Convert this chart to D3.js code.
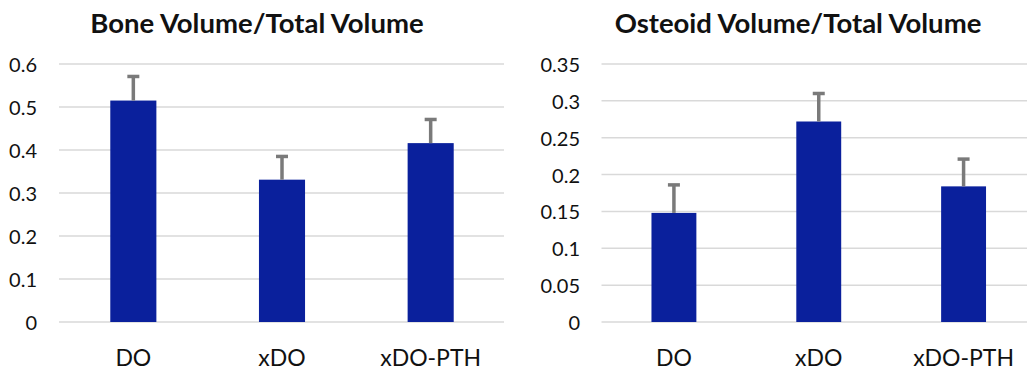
<!DOCTYPE html>
<html>
<head>
<meta charset="utf-8">
<script src="https://cdn.jsdelivr.net/npm/d3@7"></script>
<style>
  html, body { margin: 0; padding: 0; background: #fff; }
  svg { display: block; }
  text { font-family: Lato, "Open Sans", sans-serif; fill: #111; }
</style>
</head>
<body>
<svg id="chart" width="1027" height="373"></svg>
<script>
const categories = ["DO", "xDO", "xDO-PTH"];

const boneTitle = "Bone Volume/Total Volume";
const boneValues = [0.515, 0.331, 0.416];
const boneErrors = [0.056, 0.054, 0.055];
const boneTicks = [0, 0.1, 0.2, 0.3, 0.4, 0.5, 0.6];
const boneTickLabels = ["0", "0.1", "0.2", "0.3", "0.4", "0.5", "0.6"];

const osteoidTitle = "Osteoid Volume/Total Volume";
const osteoidValues = [0.148, 0.272, 0.184];
const osteoidErrors = [0.038, 0.038, 0.037];
const osteoidTicks = [0, 0.05, 0.1, 0.15, 0.2, 0.25, 0.3, 0.35];
const osteoidTickLabels = ["0", "0.05", "0.1", "0.15", "0.2", "0.25", "0.3", "0.35"];

const svg = d3.select("#chart");
const BAR = "#0a209c";
const ERR = "#7a7a7a";
const GRID = "#d9d9d9";

function drawPanel(cfg) {
  const g = svg.append("g");
  const x = d3.scaleBand().domain(categories).range([cfg.x0, cfg.x1]).paddingInner(0.69).paddingOuter(0.345);
  const y = d3.scaleLinear().domain([0, cfg.max]).range([322, 64]);

  // gridlines
  g.append("g").selectAll("line").data(cfg.ticks).join("line")
    .attr("x1", cfg.gx0).attr("x2", cfg.gx1)
    .attr("y1", d => y(d)).attr("y2", d => y(d))
    .attr("stroke", GRID).attr("stroke-width", 1.5);

  // y labels
  g.append("g").selectAll("text").data(cfg.ticks).join("text")
    .attr("x", cfg.labelX).attr("y", d => y(d))
    .attr("text-anchor", "end").attr("dominant-baseline", "central")
    .attr("font-size", 20)
    .text((d, i) => cfg.tickLabels[i]);

  // bars
  g.append("g").selectAll("rect").data(cfg.values).join("rect")
    .attr("x", (d, i) => x(categories[i]))
    .attr("width", x.bandwidth())
    .attr("y", d => y(d))
    .attr("height", d => y(0) - y(d))
    .attr("fill", BAR);

  // error bars
  const eg = g.append("g").attr("stroke", ERR).attr("stroke-width", 3.5);
  cfg.values.forEach((v, i) => {
    const cx = x(categories[i]) + x.bandwidth() / 2;
    eg.append("line").attr("x1", cx).attr("x2", cx).attr("y1", y(v)).attr("y2", y(v + cfg.errors[i]));
    eg.append("line").attr("x1", cx - 6).attr("x2", cx + 6)
      .attr("y1", y(v + cfg.errors[i])).attr("y2", y(v + cfg.errors[i]));
  });

  // x labels
  g.append("g").selectAll("text").data(categories).join("text")
    .attr("x", d => x(d) + x.bandwidth() / 2).attr("y", 366)
    .attr("text-anchor", "middle").attr("font-size", 23)
    .text(d => d);

  // title
  g.append("text").attr("x", cfg.titleX).attr("y", 33)
    .attr("text-anchor", "middle").attr("font-size", 27.5).attr("font-weight", "bold")
    .attr("fill", "#000")
    .text(cfg.title);
}

drawPanel({
  x0: 59, x1: 505, gx0: 59, gx1: 504, max: 0.6,
  ticks: boneTicks, tickLabels: boneTickLabels,
  values: boneValues, errors: boneErrors, labelX: 37,
  title: boneTitle, titleX: 257
});

drawPanel({
  x0: 601.5, x1: 1036, gx0: 601.5, gx1: 1027, max: 0.35,
  ticks: osteoidTicks, tickLabels: osteoidTickLabels,
  values: osteoidValues, errors: osteoidErrors, labelX: 580,
  title: osteoidTitle, titleX: 798
});
</script>
</body>
</html>
